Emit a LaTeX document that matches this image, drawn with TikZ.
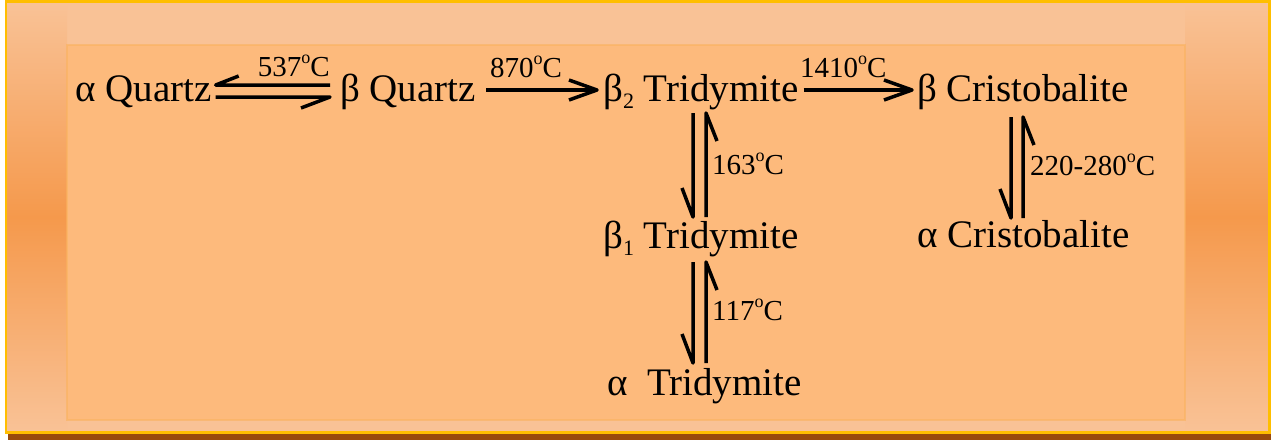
\documentclass[tikz,border=0pt]{standalone}
\usepackage{fontspec}
\setmainfont{Liberation Serif}
\usetikzlibrary{calc}
\definecolor{outerpeach}{RGB}{249,194,150}
\definecolor{innerfill}{RGB}{253,186,124}
\definecolor{orangeband}{RGB}{245,153,76}
\definecolor{goldline}{RGB}{255,190,0}
\definecolor{brownband}{RGB}{153,74,12}
\definecolor{glowline}{RGB}{250,178,95}
\newcommand{\degsup}{\raisebox{0.42em}{\fontsize{18}{18}\selectfont o}}
\newcommand{\lowsub}[1]{\raisebox{-0.18em}{\fontsize{22}{22}\selectfont #1}}
\begin{document}
\begin{tikzpicture}[x=1pt,y=-1pt,
  mineral/.style={font=\fontsize{39}{41}\selectfont, inner sep=0pt, anchor=base west},
  temp/.style={font=\fontsize{29}{31}\selectfont, inner sep=0pt, anchor=base west},
  conn/.style={line width=3.5pt, line join=round}]
\useasboundingbox (0,0) rectangle (1271,440);
% background
\fill[white] (0,0) rectangle (1271,440);
\fill[outerpeach] (7,3) rectangle (1268,431);
\shade[top color=outerpeach, bottom color=outerpeach, middle color=orangeband] (7,3) rectangle (67,431);
\shade[top color=outerpeach, bottom color=outerpeach, middle color=orangeband] (1185,3) rectangle (1268,431);
\fill[innerfill] (67,45) rectangle (1185,420);
\draw[glowline, line width=2pt, opacity=0.6] (67,45) rectangle (1185,420);
\fill[goldline] (5,0) rectangle (1271,3);
\fill[goldline] (5,0) rectangle (7,434);
\fill[goldline] (1268,0) rectangle (1271,434);
\fill[goldline] (5,431) rectangle (1271,434);
\fill[brownband] (8,434) rectangle (1271,440);
% minerals
\node[mineral] (aq) at (75,101) {α Quartz};
\node[mineral] (bq) at (340,101) {β Quartz};
\node[mineral] (b2t) at (603,101) {β\lowsub{2} Tridymite};
\node[mineral] (bc) at (917,101) {β Cristobalite};
\node[mineral] (b1t) at (603,248) {β\lowsub{1} Tridymite};
\node[mineral] (at) at (607,395) {α~~Tridymite};
\node[mineral] (ac) at (917,247) {α Cristobalite};
% temperatures
\node[temp, anchor=base east] (t537) at (330,76) {537\degsup C};
\node[temp] (t870) at (490,77) {870\degsup C};
\node[temp] (t1410) at (800,77) {1410\degsup C};
\node[temp] (t163) at (712,174) {163\degsup C};
\node[temp] (t117) at (712,320) {117\degsup C};
\node[temp] (t220) at (1030,175) {220-280\degsup C};
% alpha quartz <-> beta quartz (harpoons)
\draw[conn] ($(bq.base west)+(-10,-16)$) -- ($(aq.base east)+(4,-16)$) -- ++(23,-9);
\draw[conn] ($(aq.base east)+(4,-4)$) -- ($(bq.base west)+(-10,-4)$) -- ++(-29,11);
% straight arrows
\draw[conn] ($(bq.base east)+(10,-11)$) -- ($(b2t.base west)+(-6,-11)$);
\draw[conn] ($(b2t.base west)+(-34,-21)$) -- ($(b2t.base west)+(-6,-11)$) -- ($(b2t.base west)+(-34,-1)$);
\draw[conn] ($(b2t.base east)+(5,-11)$) -- ($(bc.base west)+(-5,-11)$);
\draw[conn] ($(bc.base west)+(-33,-21)$) -- ($(bc.base west)+(-5,-11)$) -- ($(bc.base west)+(-33,-1)$);
% beta2 <-> beta1 tridymite
\draw[conn] ($(b1t.base west)+(103,-31)$) -- ($(b2t.base west)+(103,12)$) -- ++(11,28);
\draw[conn] ($(b2t.base west)+(90,12)$) -- ($(b1t.base west)+(90,-31)$) -- ++(-11,-29);
% beta1 <-> alpha tridymite
\draw[conn] ($(at.base west)+(99,-32)$) -- ($(b1t.base west)+(103,14)$) -- ++(11,28);
\draw[conn] ($(b1t.base west)+(90,14)$) -- ($(at.base west)+(86,-32)$) -- ++(-11,-29);
% beta <-> alpha cristobalite
\draw[conn] ($(ac.base west)+(106,-29)$) -- ($(bc.base west)+(106,16)$) -- ++(11,28);
\draw[conn] ($(bc.base west)+(94,16)$) -- ($(ac.base west)+(94,-29)$) -- ++(-11,-29);
\end{tikzpicture}
\end{document}
